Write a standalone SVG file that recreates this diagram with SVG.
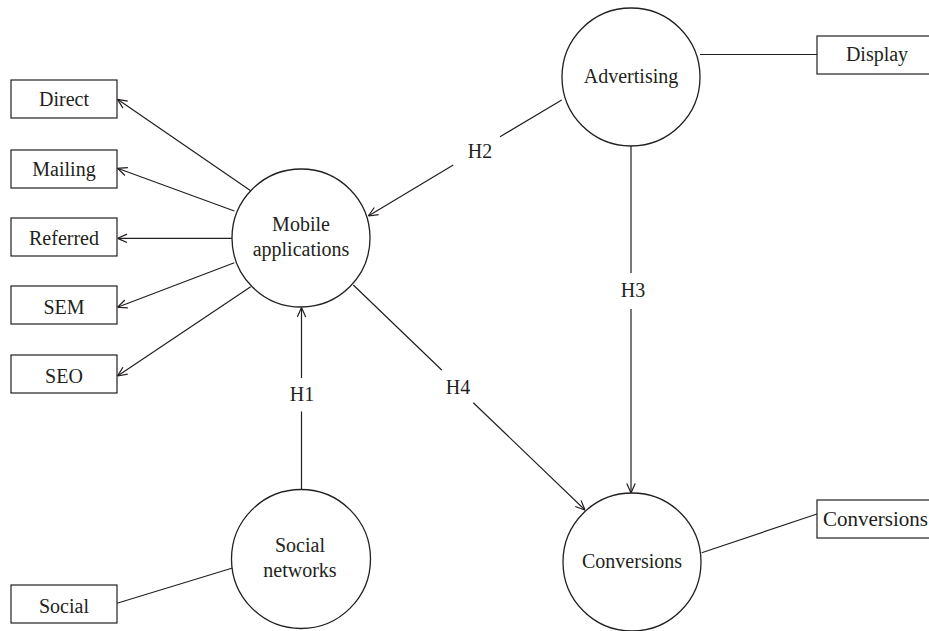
<svg xmlns="http://www.w3.org/2000/svg" width="929" height="631" viewBox="0 0 929 631">
<defs>
<marker id="arr" viewBox="0 0 10 10" refX="10" refY="5" markerWidth="10" markerHeight="10" markerUnits="userSpaceOnUse" orient="auto">
<path d="M0.5,0.8 L10,5 L0.5,9.2" fill="none" stroke="#231f20" stroke-width="1.2"/>
</marker>
<style>
.n{fill:#fff;stroke:#231f20;stroke-width:1.3}
.b{fill:#fff;stroke:#231f20;stroke-width:1.2}
.t{font-family:"Liberation Serif","Times New Roman",serif;font-size:20px;fill:#231f20;text-anchor:middle}
.c{fill:none;stroke:#231f20;stroke-width:1.2}
.a{marker-end:url(#arr)}
</style>
</defs>
<rect width="929" height="631" fill="#fff"/>
<g id="connectors">
<path class="c a" d="M250.7,190.7 L117.5,99.3"/>
<path class="c a" d="M234.3,211 L117.5,168.3"/>
<path class="c a" d="M232.3,238.3 L117.5,238.3"/>
<path class="c a" d="M234.3,262.7 L117.5,307.3"/>
<path class="c a" d="M250.7,286.7 L117.5,376"/>
<path class="c a" d="M561.7,100 L500,136.7 M453.3,165 L368.3,216"/>
<path class="c a" d="M631,146 L631,273 M631,309 L631,493"/>
<path class="c a" d="M353.3,285 L441.7,370 M473.3,402.7 L585,510"/>
<path class="c a" d="M301.5,489.5 L301.5,411.5 M301.5,378 L301.5,307.5"/>
<path class="c" d="M700,54.5 L817,54.5"/>
<path class="c" d="M701.7,552.7 L817,514"/>
<path class="c" d="M117,603.3 L232.5,568"/>
</g>
<g id="mobile">
<circle class="n" cx="301" cy="238" r="69"/>
<text class="t" x="301" y="231">Mobile</text>
<text class="t" x="301" y="256">applications</text>
</g>
<g id="advertising">
<circle class="n" cx="631" cy="77" r="69"/>
<text class="t" x="631" y="83">Advertising</text>
</g>
<g id="conversions">
<circle class="n" cx="632" cy="562" r="69"/>
<text class="t" x="632" y="567.5">Conversions</text>
</g>
<g id="social-networks">
<circle class="n" cx="301" cy="559" r="69.5"/>
<text class="t" x="300" y="552">Social</text>
<text class="t" x="300" y="577">networks</text>
</g>
<g id="box-direct"><rect class="b" x="11" y="80" width="106" height="38"/><text class="t" x="64" y="106">Direct</text></g>
<g id="box-mailing"><rect class="b" x="11" y="150" width="106" height="38"/><text class="t" x="64" y="176">Mailing</text></g>
<g id="box-referred"><rect class="b" x="11" y="218" width="106" height="38"/><text class="t" x="64" y="245">Referred</text></g>
<g id="box-sem"><rect class="b" x="11" y="286" width="106" height="38"/><text class="t" x="64" y="313.5">SEM</text></g>
<g id="box-seo"><rect class="b" x="11" y="355" width="106" height="38"/><text class="t" x="64" y="382.5">SEO</text></g>
<g id="box-social"><rect class="b" x="11" y="585" width="106" height="38"/><text class="t" x="64" y="613">Social</text></g>
<g id="box-display"><rect class="b" x="817" y="36" width="130" height="38"/><text class="t" x="877" y="61">Display</text></g>
<g id="box-conversions"><rect class="b" x="817" y="500" width="130" height="38"/><text class="t" x="823" y="525.5" style="text-anchor:start;font-size:21px">Conversions</text></g>
<g id="labels">
<text class="t" x="480" y="158">H2</text>
<text class="t" x="633" y="296.5">H3</text>
<text class="t" x="458" y="393.5">H4</text>
<text class="t" x="302" y="400.5">H1</text>
</g>
</svg>
